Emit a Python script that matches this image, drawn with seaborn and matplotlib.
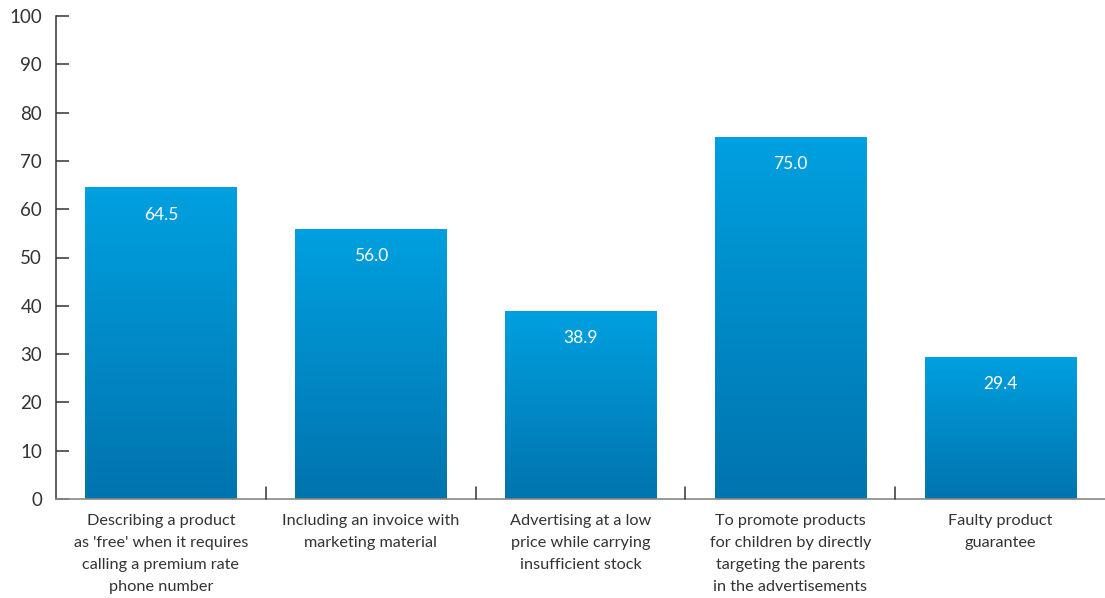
import numpy as np
import pandas as pd
import matplotlib
matplotlib.use("Agg")
import matplotlib.pyplot as plt
import seaborn as sns
from matplotlib.colors import LinearSegmentedColormap

categories = [
    "Describing a product\nas 'free' when it requires\ncalling a premium rate\nphone number",
    "Including an invoice with\nmarketing material",
    "Advertising at a low\nprice while carrying\ninsufficient stock",
    "To promote products\nfor children by directly\ntargeting the parents\nin the advertisements",
    "Faulty product\nguarantee",
]
values = [64.5, 56.0, 38.9, 75.0, 29.4]
y_ticks = [0, 10, 20, 30, 40, 50, 60, 70, 80, 90, 100]

sns.set_theme(style="white")
plt.rcParams["font.family"] = ["Lato", "DejaVu Sans"]

df = pd.DataFrame({"category": categories, "value": values})

fig = plt.figure(figsize=(11.05, 5.98), dpi=100)
ax = fig.add_axes([56 / 1105, 99 / 598, 1 - 56 / 1105, 483 / 598])

sns.barplot(data=df, x="category", y="value", color="#0090D0",
            width=0.72, saturation=1, ax=ax)

# vertical gradient fill clipped to each bar
grad_cmap = LinearSegmentedColormap.from_list("blue_grad", ["#0074AE", "#00A0E0"])
grad = np.linspace(0, 1, 256).reshape(-1, 1)
for patch in list(ax.patches):
    x0, y0 = patch.get_x(), patch.get_y()
    w, h = patch.get_width(), patch.get_height()
    patch.set_facecolor("none")
    patch.set_edgecolor("none")
    im = ax.imshow(grad, cmap=grad_cmap, origin="lower", aspect="auto",
                   extent=[x0, x0 + w, y0, y0 + h], zorder=2)
    im.set_clip_path(patch)

for i, v in enumerate(values):
    ax.text(i, v - 5.6, f"{v:.1f}", ha="center", va="center",
            color="white", fontsize=12.5, zorder=5)

ax.set_xlim(-0.5, 4.5)
ax.set_ylim(0, 100)
ax.set_yticks(y_ticks)
ax.set_yticklabels([str(t) for t in y_ticks])
ax.set_xticks(range(len(categories)))
ax.set_xticklabels(categories, fontsize=11.7, color="#333333", linespacing=1.75)
ax.set_xlabel("")
ax.set_ylabel("")

# y axis: inward ticks on the left spine
ax.tick_params(axis="y", left=True, direction="in", length=9.5, width=1.1,
               color="#333333", labelsize=13.5, labelcolor="#333333", pad=10)
ax.tick_params(axis="x", bottom=False, length=0, pad=10.5)

# boundary ticks between categories along the baseline
for b in np.arange(0.5, len(categories) - 0.5, 1.0):
    ax.plot([b, b], [0, 2.5], color="#333333", lw=1.1, zorder=4, clip_on=False)

for side in ["top", "right"]:
    ax.spines[side].set_visible(False)
ax.spines["left"].set_color("#333333")
ax.spines["left"].set_linewidth(1.1)
ax.spines["bottom"].set_color("#888888")
ax.spines["bottom"].set_linewidth(1.2)
ax.grid(False)

fig.savefig("out.png", dpi=100, facecolor="white")
